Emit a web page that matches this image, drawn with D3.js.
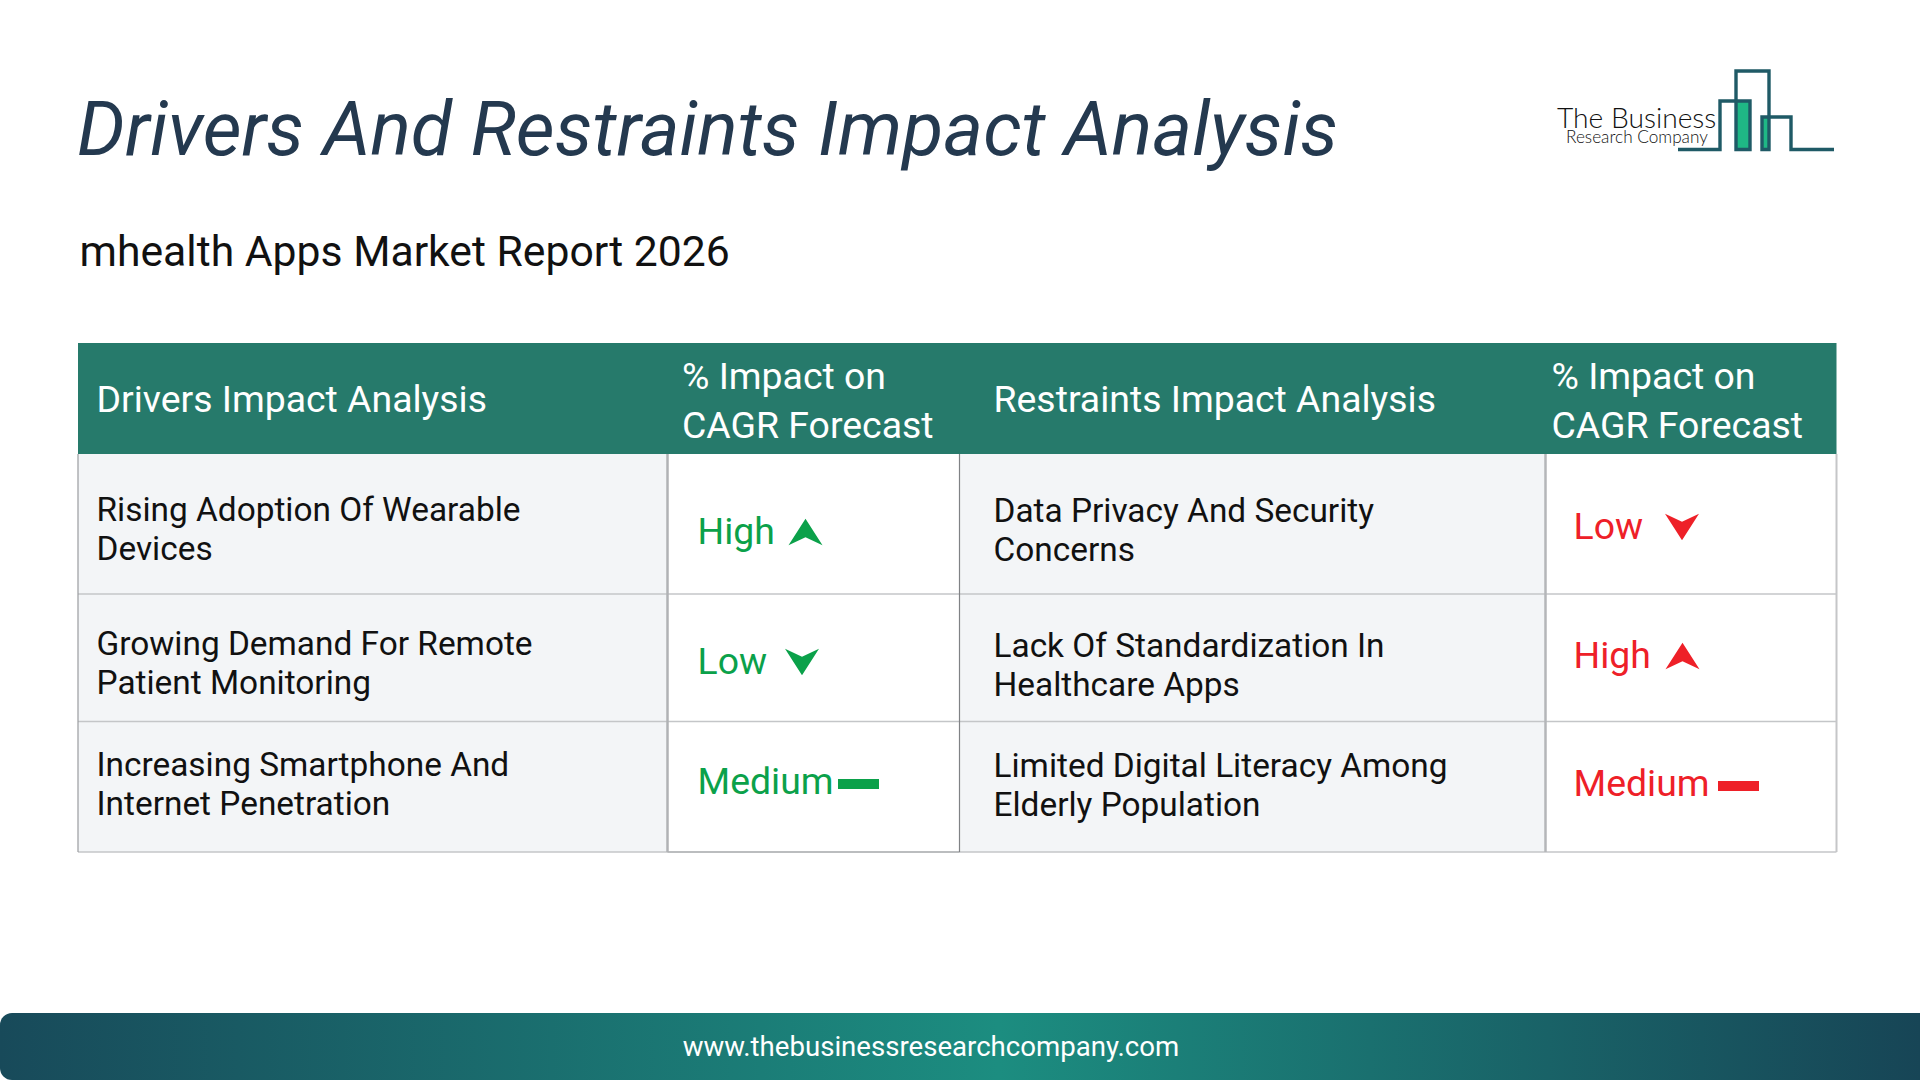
<!DOCTYPE html>
<html>
<head>
<meta charset="utf-8">
<script src="https://cdn.jsdelivr.net/npm/d3@7"></script>
<style>
  html, body { margin: 0; padding: 0; background: #fff; }
  svg { display: block; }
  text { font-family: Roboto, sans-serif; }
</style>
</head>
<body>
<div id="chart"></div>
<script>
// table content
var chartTitle = "Drivers And Restraints Impact Analysis";
var chartSubtitle = "mhealth Apps Market Report 2026";
var footerUrl = "www.thebusinessresearchcompany.com";
var logoLines = ["The Business", "Research Company"];

var impactHeader = ["% Impact on", "CAGR Forecast"];
var driversHeader = "Drivers Impact Analysis";
var restraintsHeader = "Restraints Impact Analysis";

var drivers = [
    ["Rising Adoption Of Wearable", "Devices"],
    ["Growing Demand For Remote", "Patient Monitoring"],
    ["Increasing Smartphone And", "Internet Penetration"]
];
var driverImpact = ["High", "Low", "Medium"];

var restraints = [
    ["Data Privacy And Security", "Concerns"],
    ["Lack Of Standardization In", "Healthcare Apps"],
    ["Limited Digital Literacy Among", "Elderly Population"]
];
var restraintImpact = ["Low", "High", "Medium"];

// layout of the page
var width = 1920, height = 1080;
var columns = ["driver", "driverImpact", "restraint", "restraintImpact", "end"];
var rows = ["header", "r0", "r1", "r2", "end"];

var xCol = d3.scaleOrdinal().domain(columns).range([78, 667.5, 959.5, 1545.5, 1836.5]);
var yRow = d3.scaleOrdinal().domain(rows).range([343, 454, 594, 721.5, 852]);

var green = "#0ba14a", red = "#ee2028";
var lineColor = "#c4c6c8";

// colour and weight of the vertical table lines
var dividerColor = d3.scaleOrdinal().domain(columns).range(["#9a9c9f", "#b0b2b5", "#808285", "#b4b6b9", "#c5c6c8"]);
var dividerWidth = d3.scaleOrdinal().domain(columns).range([1.2, 2.5, 1.2, 2.5, 2]);

var svg = d3.select("#chart")
    .append("svg")
    .attr("width", width)
    .attr("height", height)
    .attr("viewBox", "0 0 " + width + " " + height);

var defs = svg.append("defs");
var footerGrad = defs.append("linearGradient")
    .attr("id", "footerGrad")
    .attr("x1", "0").attr("x2", "1").attr("y1", "0").attr("y2", "0");
footerGrad.append("stop").attr("offset", "0").attr("stop-color", "#184a5a");
footerGrad.append("stop").attr("offset", "0.52").attr("stop-color", "#1c8d80");
footerGrad.append("stop").attr("offset", "1").attr("stop-color", "#174556");

/**
 * Title and subtitle above the table
 */
function drawTitle() {
    svg.append("text")
        .attr("x", 77).attr("y", 154.5)
        .attr("font-size", 75.5)
        .attr("font-style", "italic")
        .attr("fill", "#24394f")
        .text(chartTitle);

    svg.append("text")
        .attr("x", 79.5).attr("y", 266)
        .attr("font-size", 42.7)
        .attr("fill", "#111")
        .text(chartSubtitle);
}

/**
 * The company logo, top right
 */
function drawLogo() {
    var logo = svg.append("g").attr("class", "logo");
    var stroke = "#1f5a66";

    logo.append("rect").attr("x", 1736).attr("y", 101).attr("width", 14).attr("height", 48).attr("fill", "#1fb885");
    logo.append("rect").attr("x", 1762).attr("y", 117).attr("width", 7).attr("height", 32).attr("fill", "#1fb885");

    var line = d3.line();
    var outlines = [
        [[1678, 149.5], [1720, 149.5], [1720, 101], [1750, 101], [1750, 149.5], [1736, 149.5], [1736, 71], [1769, 71], [1769, 149.5], [1762, 149.5], [1762, 117], [1791, 117], [1791, 149.5], [1834, 149.5]]
    ];
    logo.selectAll("path.outline")
        .data(outlines)
        .enter()
        .append("path")
        .attr("class", "outline")
        .attr("d", line)
        .attr("fill", "none")
        .attr("stroke", stroke)
        .attr("stroke-width", 3.4);

    logo.append("text")
        .attr("x", 1557).attr("y", 128)
        .attr("font-size", 28.2)
        .attr("font-weight", 300)
        .style("font-family", "Lato, sans-serif")
        .attr("fill", "#111")
        .text(logoLines[0]);
    logo.append("text")
        .attr("x", 1566).attr("y", 142.5)
        .attr("font-size", 17.2)
        .attr("font-weight", 300)
        .style("font-family", "Lato, sans-serif")
        .attr("fill", "#111")
        .text(logoLines[1]);
}

/**
 * Cell backgrounds, header band and the grid lines
 */
function drawGrid() {
    svg.append("rect")
        .attr("x", xCol("driver")).attr("y", yRow("header"))
        .attr("width", xCol("end") - xCol("driver"))
        .attr("height", yRow("r0") - yRow("header"))
        .attr("fill", "#267a6b");

    ["driver", "restraint"].forEach(function(col) {
        svg.append("rect")
            .attr("x", xCol(col)).attr("y", yRow("r0"))
            .attr("width", xCol(columns[columns.indexOf(col) + 1]) - xCol(col))
            .attr("height", yRow("end") - yRow("r0"))
            .attr("fill", "#f3f5f7");
    });

    svg.selectAll("line.h")
        .data(["r1", "r2", "end"])
        .enter()
        .append("line")
        .attr("class", "h")
        .attr("x1", xCol("driver")).attr("x2", xCol("end"))
        .attr("y1", function(d) { return yRow(d); })
        .attr("y2", function(d) { return yRow(d); })
        .attr("stroke", lineColor)
        .attr("stroke-width", 1.6);

    // the white drivers impact cell has a darker foot
    svg.append("line")
        .attr("x1", xCol("driverImpact")).attr("x2", xCol("restraint"))
        .attr("y1", yRow("end")).attr("y2", yRow("end"))
        .attr("stroke", "#a4a6a8")
        .attr("stroke-width", 1.2);

    svg.selectAll("line.v")
        .data(columns)
        .enter()
        .append("line")
        .attr("class", "v")
        .attr("x1", function(d) { return xCol(d); })
        .attr("x2", function(d) { return xCol(d); })
        .attr("y1", yRow("r0")).attr("y2", yRow("end"))
        .attr("stroke", dividerColor)
        .attr("stroke-width", dividerWidth);
}

/**
 * Header row text
 */
function drawHeader() {
    var header = svg.append("g").attr("fill", "#fff").attr("font-size", 37.4);

    header.append("text").attr("x", 96.5).attr("y", 412).text(driversHeader);
    header.append("text").attr("x", 993.5).attr("y", 412).text(restraintsHeader);

    [682, 1551.5].forEach(function(x) {
        header.selectAll(null)
            .data(impactHeader)
            .enter()
            .append("text")
            .attr("x", x)
            .attr("y", function(d, i) { return 389 + i * 48.5; })
            .text(function(d) { return d; });
    });
}

/**
 * Two line labels of one text column
 */
function drawLabels(data, x, offsets) {
    var groups = svg.append("g")
        .attr("fill", "#111")
        .attr("font-size", 33.4)
        .selectAll("g")
        .data(data)
        .enter()
        .append("g");

    groups.selectAll("text")
        .data(function(d, i) { return d.map(function(t) { return {text: t, row: i}; }); })
        .enter()
        .append("text")
        .attr("x", x)
        .attr("y", function(d, i) { return offsets[d.row] + i * 39; })
        .text(function(d) { return d.text; });
}

// arrow shape, pointing up around 0,0
function arrowPath() {
    var p = d3.path();
    p.moveTo(0, -13.2);
    p.lineTo(17, 13.2);
    p.lineTo(0, 5.2);
    p.lineTo(-17, 13.2);
    p.closePath();
    return p.toString();
}

/**
 * Impact level word with its marker
 */
function drawImpact(data, x, color, baselines, markerX) {
    var cells = svg.append("g")
        .selectAll("g")
        .data(data)
        .enter()
        .append("g")
        .attr("fill", color);

    cells.append("text")
        .attr("x", x)
        .attr("y", function(d, i) { return baselines[i]; })
        .attr("font-size", 37.4)
        .text(function(d) { return d; });

    cells.each(function(d, i) {
        var g = d3.select(this);
        if (d == "Medium") {
            g.append("rect")
                .attr("x", markerX[i] - 20.5).attr("y", baselines[i] - 15)
                .attr("width", 41).attr("height", 10);
        } else {
            g.append("path")
                .attr("d", arrowPath())
                .attr("transform", "translate(" + markerX[i] + "," + (baselines[i] - 12) + ")" + (d == "Low" ? " rotate(180)" : ""));
        }
    });
}

/**
 * Footer band with the url
 */
function drawFooter() {
    var r = 12, top = 1013, p = d3.path();
    p.moveTo(r, top);
    p.lineTo(width, top);
    p.lineTo(width, height);
    p.lineTo(r, height);
    p.arcTo(0, height, 0, height - r, r);
    p.lineTo(0, top + r);
    p.arcTo(0, top, r, top, r);
    p.closePath();

    svg.append("path").attr("d", p.toString()).attr("fill", "url(#footerGrad)");

    svg.append("text")
        .attr("x", 931).attr("y", 1056)
        .attr("text-anchor", "middle")
        .attr("font-size", 27.6)
        .attr("fill", "#fff")
        .text(footerUrl);
}

drawTitle();
drawLogo();
drawGrid();
drawHeader();
drawLabels(drivers, 96.5, [521, 655, 776]);
drawLabels(restraints, 993.5, [522, 657, 777]);
drawImpact(driverImpact, 697.5, green, [544, 674, 794], [805.5, 802, 858.5]);
drawImpact(restraintImpact, 1573.5, red, [539, 668, 796], [1682, 1682.5, 1738.5]);
drawFooter();
</script>
</body>
</html>
